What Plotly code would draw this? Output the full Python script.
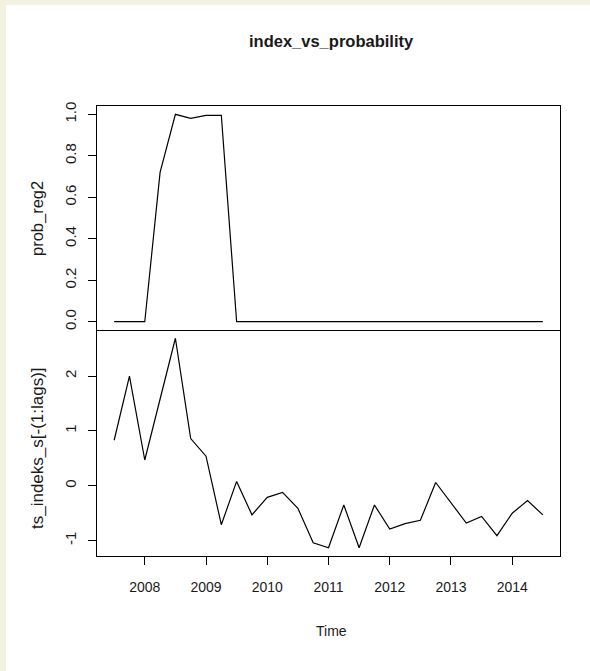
import plotly.graph_objects as go

# Quarterly time index (2007 Q3 .. 2014 Q3)
time_idx = [2007.5, 2007.75, 2008.0, 2008.25, 2008.5, 2008.75, 2009.0, 2009.25,
            2009.5, 2009.75, 2010.0, 2010.25, 2010.5, 2010.75, 2011.0, 2011.25,
            2011.5, 2011.75, 2012.0, 2012.25, 2012.5, 2012.75, 2013.0, 2013.25,
            2013.5, 2013.75, 2014.0, 2014.25, 2014.5]

# Probability of regime 2
prob_reg2 = [0.0, 0.0, 0.0, 0.72, 1.0, 0.98, 0.995, 0.995,
             0.0, 0.0, 0.0, 0.0, 0.0, 0.0, 0.0, 0.0,
             0.0, 0.0, 0.0, 0.0, 0.0, 0.0, 0.0, 0.0,
             0.0, 0.0, 0.0, 0.0, 0.0]

# Index series
ts_indeks = [0.83, 2.00, 0.47, 1.56, 2.69, 0.86, 0.54, -0.71,
             0.08, -0.53, -0.21, -0.12, -0.41, -1.04, -1.13, -0.35,
             -1.13, -0.35, -0.79, -0.69, -0.63, 0.06, -0.32, -0.68,
             -0.56, -0.91, -0.50, -0.27, -0.53]

year_ticks = [2008, 2009, 2010, 2011, 2012, 2013, 2014]
prob_ticks = [0.0, 0.2, 0.4, 0.6, 0.8, 1.0]
idx_ticks = [-1, 0, 1, 2]

W, H = 590, 671
L, R, T, B = 97, 30, 106, 115
pw, ph = W - L - R, H - T - B
split = (556 - 330) / ph

FONT = "Liberation Sans, Arial, sans-serif"
INK = "#1a1a1a"


def px_x(p):
    return (p - L) / pw


def px_y(p):
    return (H - B - p) / ph


fig = go.Figure()
fig.add_trace(go.Scatter(x=time_idx, y=prob_reg2, xaxis="x2", yaxis="y2",
                         mode="lines", line=dict(color="black", width=1.2),
                         showlegend=False))
fig.add_trace(go.Scatter(x=time_idx, y=ts_indeks, xaxis="x", yaxis="y",
                         mode="lines", line=dict(color="black", width=1.2),
                         showlegend=False))

tick_style = dict(showgrid=False, zeroline=False, ticks="outside", ticklen=8,
                  tickcolor="black", tickwidth=1)
line_style = dict(showline=True, linecolor="black", linewidth=1)

fig.update_layout(
    width=W, height=H,
    margin=dict(l=L, r=R, t=T, b=B),
    paper_bgcolor="white", plot_bgcolor="white",
    # bottom panel x axis: only its own bottom edge, the shared edge comes from x2
    xaxis=dict(domain=[0, 1], anchor="y", range=[2007.22, 2014.78],
               tickvals=year_ticks, ticktext=[str(v) for v in year_ticks],
               mirror=False, ticklabelstandoff=10,
               tickfont=dict(family=FONT, size=14, color=INK),
               **line_style, **tick_style),
    xaxis2=dict(domain=[0, 1], anchor="y2", matches="x", mirror=True,
                showgrid=False, zeroline=False, showticklabels=False, ticks="",
                **line_style),
    yaxis=dict(domain=[0, split], anchor="x", range=[-1.28, 2.84],
               tickvals=idx_ticks, ticktext=[str(v) for v in idx_ticks],
               tickangle=-90, ticklabelstandoff=6, mirror=True,
               tickfont=dict(family=FONT, size=15, color=INK),
               **line_style, **tick_style),
    yaxis2=dict(domain=[split, 1], anchor="x2", range=[-0.04, 1.04],
                tickvals=prob_ticks, ticktext=[f"{v:.1f}" for v in prob_ticks],
                tickangle=-90, ticklabelstandoff=6, mirror=True,
                tickfont=dict(family=FONT, size=15, color=INK),
                **line_style, **tick_style),
    shapes=[
        # cream frame strips along top and left edges
        dict(type="rect", xref="paper", yref="paper", layer="below",
             x0=px_x(0), x1=px_x(W), y0=px_y(5), y1=px_y(0),
             fillcolor="#f3f1e0", line=dict(width=0)),
        dict(type="rect", xref="paper", yref="paper", layer="below",
             x0=px_x(0), x1=px_x(6), y0=px_y(H), y1=px_y(0),
             fillcolor="#f3f1e0", line=dict(width=0)),
    ],
    annotations=[
        dict(text="<b>index_vs_probability</b>", xref="paper", yref="paper",
             x=px_x(331), y=px_y(41), xanchor="center", yanchor="middle",
             showarrow=False, font=dict(family=FONT, size=16.5, color=INK)),
        dict(text="Time", xref="paper", yref="paper",
             x=px_x(331), y=px_y(631), xanchor="center", yanchor="middle",
             showarrow=False, font=dict(family=FONT, size=14, color=INK)),
        dict(text="prob_reg2", xref="paper", yref="paper", textangle=-90,
             x=px_x(37), y=px_y(218), xanchor="center", yanchor="middle",
             showarrow=False, font=dict(family=FONT, size=16.5, color=INK)),
        dict(text="ts_indeks_s[-(1:lags)]", xref="paper", yref="paper", textangle=-90,
             x=px_x(37), y=px_y(448), xanchor="center", yanchor="middle",
             showarrow=False, font=dict(family=FONT, size=17, color=INK)),
    ],
)

fig.write_html("out.html")
